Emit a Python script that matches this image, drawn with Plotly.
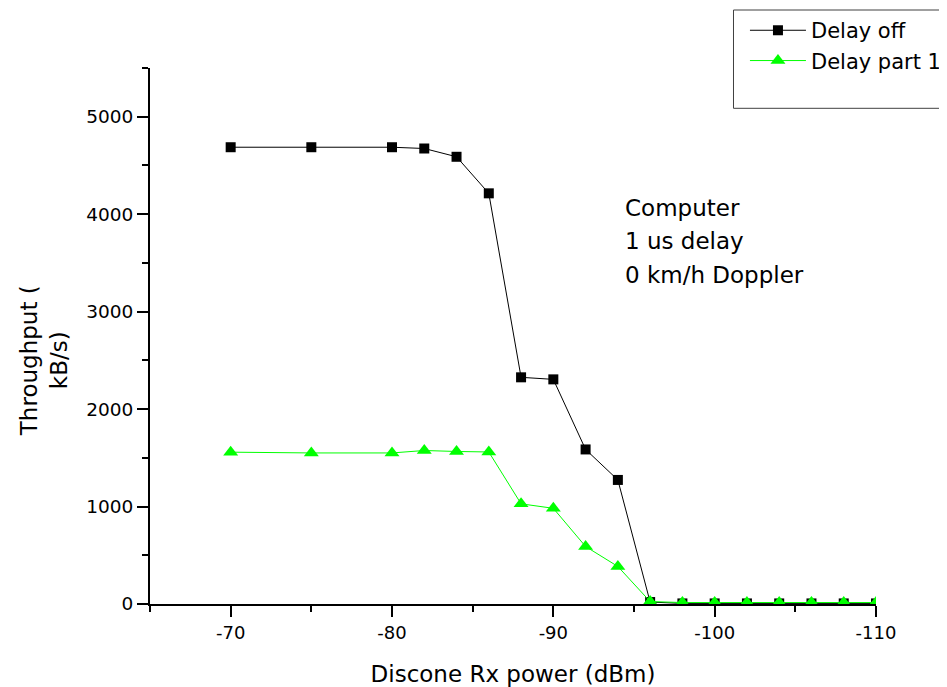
import plotly.graph_objects as go

# ---- data ----
rx_power = [-70, -75, -80, -82, -84, -86, -88, -90, -92, -94, -96, -98, -100, -102, -104, -106, -108, -110]
delay_off = [4687, 4687, 4687, 4674, 4589, 4214, 2326, 2305, 1586, 1273, 20, 6, 6, 6, 6, 6, 6, 6]
delay_part1 = [1558, 1550, 1550, 1575, 1565, 1560, 1028, 982, 590, 385, 25, 15, 15, 15, 15, 15, 15, 15]
series_names = ["Delay off", "Delay part 1"]
x_tick_vals = [-70, -80, -90, -100, -110]
x_tick_text = ["-70", "-80", "-90", "-100", "-110"]
y_tick_vals = [0, 1000, 2000, 3000, 4000, 5000]
y_tick_text = ["0", "1000", "2000", "3000", "4000", "5000"]
note_lines = ["Computer", "1 us delay", "0 km/h Doppler"]
x_title = "Discone Rx power (dBm)"
y_title = "Throughput (<br>kB/s)"

FONT = "DejaVu Sans"

fig = go.Figure()
fig.add_trace(go.Scatter(
    x=rx_power, y=delay_off, name=series_names[0], mode="lines+markers",
    line=dict(color="black", width=1),
    marker=dict(symbol="square", size=10, color="black"),
))
fig.add_trace(go.Scatter(
    x=rx_power, y=delay_part1, name=series_names[1], mode="lines+markers",
    line=dict(color="#00FF00", width=1),
    marker=dict(symbol="triangle-up", size=13, color="#00FF00"),
))

# legend frame (larger than the entries, as in the original)
fig.add_shape(type="rect", xref="paper", yref="paper",
              x0=0.8037, x1=1.30, y0=0.9248, y1=1.1082,
              line=dict(color="#404040", width=1), fillcolor="rgba(0,0,0,0)")

note_y = [0.7397, 0.6767, 0.6132]
for txt, yy in zip(note_lines, note_y):
    fig.add_annotation(text=txt, xref="paper", yref="paper", x=0.6515, y=yy,
                       xanchor="left", yanchor="middle", showarrow=False,
                       font=dict(family=FONT, size=23, color="black"))

# y axis title (two lines, rotated)
fig.add_annotation(text=y_title, xref="paper", yref="paper", x=-0.146, y=0.453,
                   xanchor="center", yanchor="middle", textangle=-90, showarrow=False,
                   font=dict(family=FONT, size=23, color="black"))

# the page body adds an 8px offset, so the figure is 8px smaller than the window
fig.update_layout(
    width=939, height=679,
    margin=dict(l=142, r=71, t=60, b=83, autoexpand=False),
    paper_bgcolor="white", plot_bgcolor="white",
    font=dict(family=FONT, color="black"),
    showlegend=True,
    legend=dict(x=0.8195, y=1.108, xanchor="left", yanchor="top",
                bgcolor="rgba(0,0,0,0)", borderwidth=0,
                font=dict(family=FONT, size=21, color="black"),
                itemwidth=56, tracegroupgap=0),
    xaxis=dict(
        range=[-65, -110], showgrid=False, zeroline=False,
        showline=True, linecolor="black", linewidth=2,
        ticks="outside", ticklen=11, tickwidth=2, tickcolor="black",
        tickvals=x_tick_vals, ticktext=x_tick_text, ticklabelstandoff=0,
        tickfont=dict(family=FONT, size=18, color="black"),
        minor=dict(ticks="outside", ticklen=6, tickwidth=2, tickcolor="black",
                   tick0=-65, dtick=5, showgrid=False),
        title=dict(text=x_title, font=dict(family=FONT, size=23, color="black"), standoff=28),
    ),
    yaxis=dict(
        range=[0, 5500], showgrid=False, zeroline=False,
        showline=True, linecolor="black", linewidth=2,
        ticks="outside", ticklen=11, tickwidth=2, tickcolor="black",
        tickvals=y_tick_vals, ticktext=y_tick_text, ticklabelstandoff=0,
        tickfont=dict(family=FONT, size=18.5, color="black"),
        minor=dict(ticks="outside", ticklen=6, tickwidth=2, tickcolor="black",
                   tick0=0, dtick=500, showgrid=False),
    ),
)

fig.write_html("out.html")
